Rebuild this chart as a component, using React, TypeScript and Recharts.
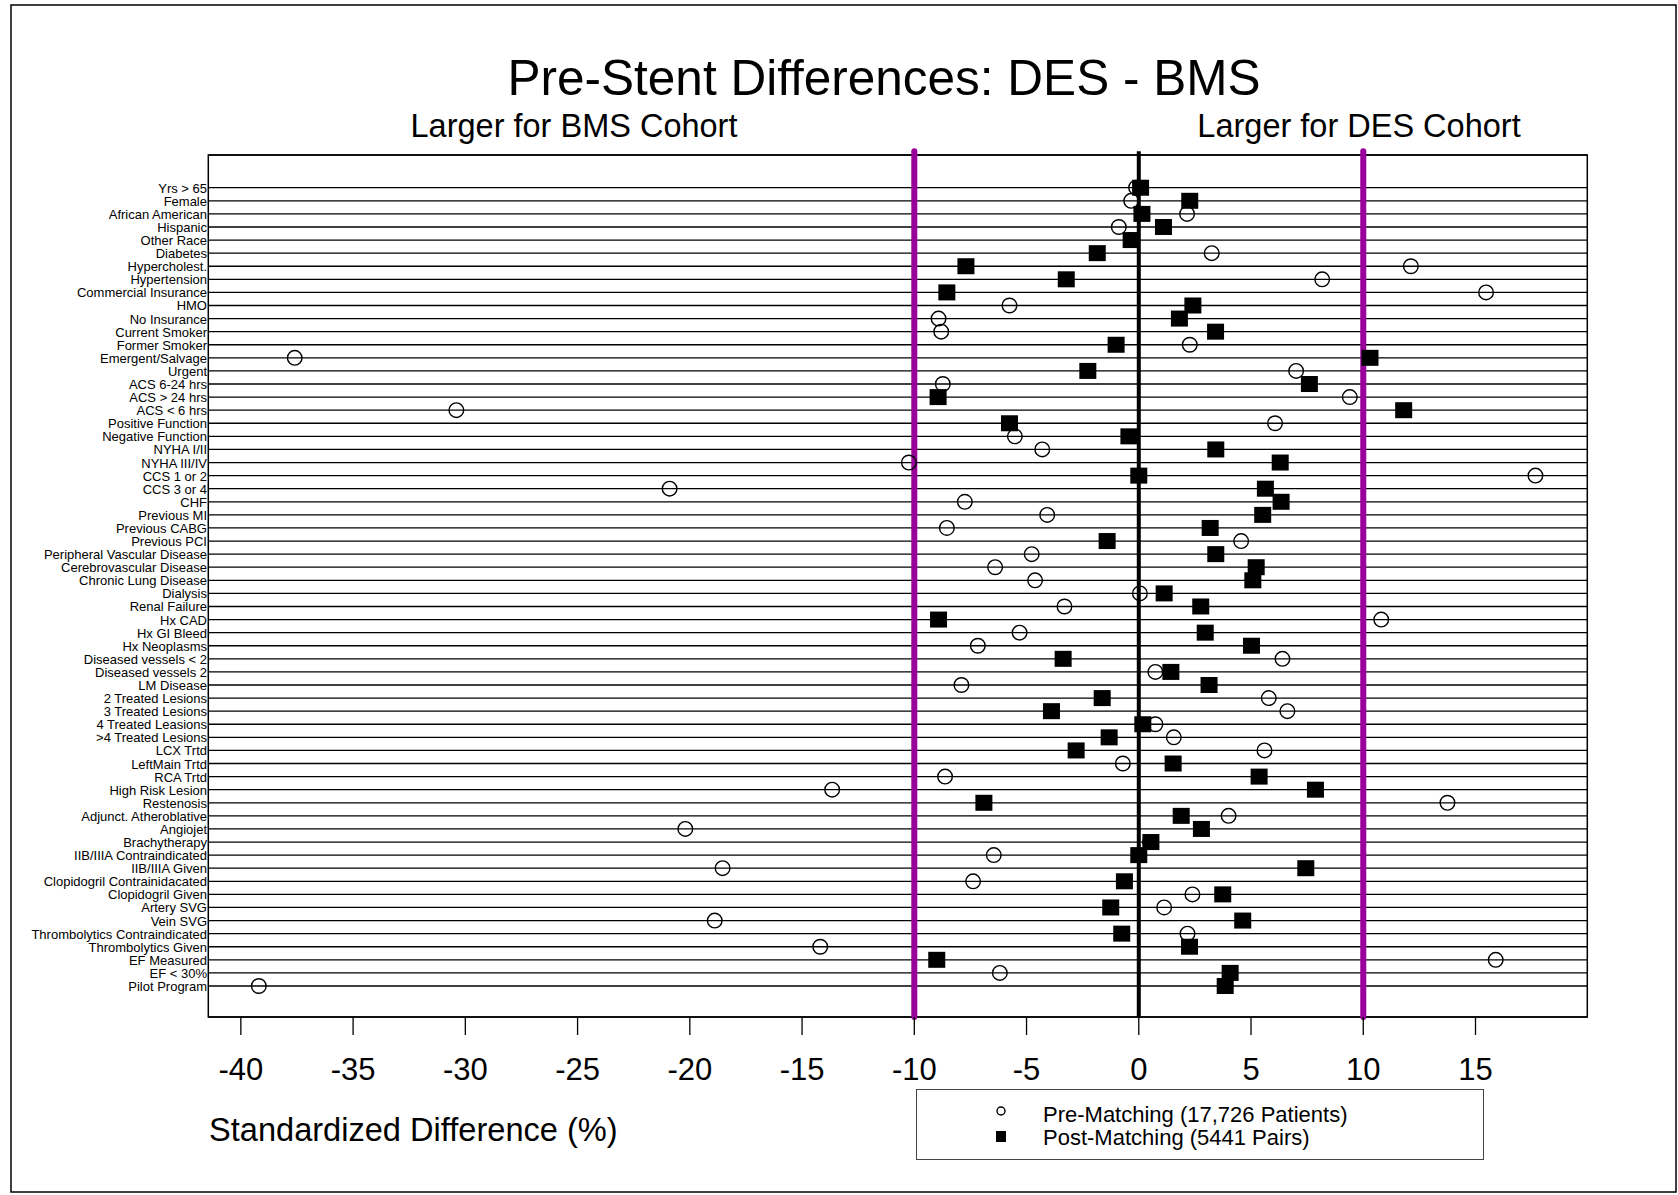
import React from "react";
import {
  ScatterChart,
  Scatter,
  XAxis,
  YAxis,
  CartesianGrid,
  ReferenceLine,
  ReferenceArea,
  Legend,
} from "recharts";

const CATEGORIES = [
  "Yrs > 65",
  "Female",
  "African American",
  "Hispanic",
  "Other Race",
  "Diabetes",
  "Hypercholest.",
  "Hypertension",
  "Commercial Insurance",
  "HMO",
  "No Insurance",
  "Current Smoker",
  "Former Smoker",
  "Emergent/Salvage",
  "Urgent",
  "ACS 6-24 hrs",
  "ACS > 24 hrs",
  "ACS < 6 hrs",
  "Positive Function",
  "Negative Function",
  "NYHA I/II",
  "NYHA III/IV",
  "CCS 1 or 2",
  "CCS 3 or 4",
  "CHF",
  "Previous MI",
  "Previous CABG",
  "Previous PCI",
  "Peripheral Vascular Disease",
  "Cerebrovascular Disease",
  "Chronic Lung Disease",
  "Dialysis",
  "Renal Failure",
  "Hx CAD",
  "Hx GI Bleed",
  "Hx Neoplasms",
  "Diseased vessels < 2",
  "Diseased vessels 2",
  "LM Disease",
  "2 Treated Lesions",
  "3 Treated Lesions",
  "4 Treated Leasions",
  ">4 Treated Lesions",
  "LCX Trtd",
  "LeftMain Trtd",
  "RCA Trtd",
  "High Risk Lesion",
  "Restenosis",
  "Adjunct. Atheroblative",
  "Angiojet",
  "Brachytherapy",
  "IIB/IIIA Contraindicated",
  "IIB/IIIA Given",
  "Clopidogril Contrainidacated",
  "Clopidogril Given",
  "Artery SVG",
  "Vein SVG",
  "Thrombolytics Contraindicated",
  "Thrombolytics Given",
  "EF Measured",
  "EF < 30%",
  "Pilot Program",
];

// standardized difference (%) before matching, one per category
const PRE_MATCHING = [
  -0.12, -0.34, 2.15, -0.89, -0.35, 3.25, 12.12, 8.17, 15.47, -5.76,
  -8.92, -8.8, 2.27, -37.6, 7.01, -8.73, 9.4, -30.4, 6.07, -5.52,
  -4.3, -10.24, 17.67, -20.9, -7.75, -4.08, -8.55, 4.56, -4.77, -6.4,
  -4.62, 0.05, -3.31, 10.8, -5.31, -7.17, 6.4, 0.74, -7.9, 5.79,
  6.62, 0.74, 1.56, 5.6, -0.71, -8.63, -13.66, 13.75, 4.0, -20.2,
  0.5, -6.46, -18.54, -7.38, 2.39, 1.13, -18.89, 2.17, -14.19, 15.9,
  -6.19, -39.2,
];

// standardized difference (%) after matching
const POST_MATCHING = [
  0.08, 2.27, 0.14, 1.1, -0.34, -1.85, -7.7, -3.23, -8.55, 2.41,
  1.81, 3.42, -1.01, 10.3, -2.27, 7.6, -8.94, 11.8, -5.76, -0.44,
  3.43, 6.3, 0.0, 5.64, 6.34, 5.52, 3.18, -1.41, 3.43, 5.23,
  5.08, 1.13, 2.76, -8.92, 2.96, 5.02, -3.37, 1.43, 3.13, -1.63,
  -3.89, 0.18, -1.32, -2.79, 1.53, 5.36, 7.87, -6.9, 1.89, 2.79,
  0.54, 0.0, 7.44, -0.64, 3.74, -1.25, 4.63, -0.76, 2.26, -9.0,
  4.07, 3.85,
];

const X_TICKS = [-40, -35, -30, -25, -20, -15, -10, -5, 0, 5, 10, 15];
const THRESHOLDS = [-10, 10];

const PRE_NAME = "Pre-Matching (17,726 Patients)";
const POST_NAME = "Post-Matching (5441 Pairs)";

const FONT = "'Liberation Sans', Arial, Helvetica, sans-serif";
const W = 1678;
const H = 1195;
const X_DOMAIN: [number, number] = [-41.45, 19.98];
const Y_DOMAIN: [number, number] = [-2.5, 63.37];
// vertical guide lines poke a little above the frame
const LINE_TOP = -2.78;

const rows = CATEGORIES.map((_, i) => i);
const preData = CATEGORIES.map((c, i) => ({ row: i, label: c, diff: PRE_MATCHING[i] }));
const postData = CATEGORIES.map((c, i) => ({ row: i, label: c, diff: POST_MATCHING[i] }));

const XTick = (props: any) => (
  <text
    x={props.x}
    y={1080}
    textAnchor="middle"
    fontSize={31}
    fontFamily={FONT}
    fill="#000"
  >
    {props.payload.value}
  </text>
);

const YTick = (props: any) => (
  <text
    x={207}
    y={props.y + 0.5}
    textAnchor="end"
    dominantBaseline="central"
    fontSize={13}
    fontFamily={FONT}
    fill="#000"
  >
    {CATEGORIES[props.payload.value]}
  </text>
);

const OpenCircle = (props: any) => (
  <circle cx={props.cx} cy={props.cy} r={7.3} fill="none" stroke="#000" strokeWidth={1.4} />
);

const FilledSquare = (props: any) => (
  <rect x={props.cx - 8.5} y={props.cy - 8} width={17} height={16} fill="#000" />
);

const LegendBox = () => (
  <div
    style={{
      position: "relative",
      width: 566,
      height: 69,
      border: "1.5px solid #444",
      background: "#fff",
      fontFamily: FONT,
      color: "#000",
    }}
  >
    <svg width={566} height={69} style={{ position: "absolute", left: 0, top: 0 }}>
      <circle cx={84} cy={21} r={4} fill="none" stroke="#000" strokeWidth={1.4} />
      <rect x={79} y={41} width={10} height={11} fill="#000" />
      <text x={126} y={32} fontSize={22} fontFamily={FONT}>
        {PRE_NAME}
      </text>
      <text x={126} y={55} fontSize={22} fontFamily={FONT}>
        {POST_NAME}
      </text>
    </svg>
  </div>
);

export default function App() {
  return (
    <div
      style={{
        position: "absolute",
        left: 0,
        top: 0,
        width: W,
        height: H,
        background: "#fff",
        overflow: "hidden",
      }}
    >
      <ScatterChart
        width={W}
        height={H}
        margin={{ top: 155, right: 90.7, bottom: 98, left: 8.3 }}
      >
        <CartesianGrid vertical={false} stroke="#000" strokeWidth={1.3} />
        <XAxis
          type="number"
          dataKey="diff"
          domain={X_DOMAIN}
          ticks={X_TICKS}
          interval={0}
          axisLine={false}
          tickSize={18}
          tickLine={{ stroke: "#000", strokeWidth: 1.3 }}
          tick={XTick}
          height={80}
        />
        <YAxis
          type="number"
          dataKey="row"
          domain={Y_DOMAIN}
          reversed
          ticks={rows}
          interval={0}
          tick={YTick}
          tickLine={false}
          axisLine={false}
          width={200}
        />
        <ReferenceArea
          x1={X_DOMAIN[0]}
          x2={X_DOMAIN[1]}
          y1={Y_DOMAIN[0]}
          y2={Y_DOMAIN[1]}
          fill="none"
          fillOpacity={0}
          stroke="#000"
          strokeWidth={1.5}
          ifOverflow="visible"
        />
        {THRESHOLDS.map((t) => (
          <ReferenceLine
            key={t}
            segment={[
              { x: t, y: LINE_TOP },
              { x: t, y: Y_DOMAIN[1] },
            ]}
            stroke="#990099"
            strokeWidth={6}
            strokeLinecap="round"
            ifOverflow="visible"
          />
        ))}
        <ReferenceLine
          segment={[
            { x: 0, y: LINE_TOP },
            { x: 0, y: Y_DOMAIN[1] },
          ]}
          stroke="#000"
          strokeWidth={4}
          ifOverflow="visible"
        />
        <Scatter
          name={PRE_NAME}
          data={preData}
          shape={OpenCircle}
          isAnimationActive={false}
        />
        <Scatter
          name={POST_NAME}
          data={postData}
          shape={FilledSquare}
          isAnimationActive={false}
        />
        <Legend
          layout="vertical"
          align="center"
          verticalAlign="middle"
          content={LegendBox}
          wrapperStyle={{ left: 916, top: 1089, width: 570, height: 73 }}
        />
      </ScatterChart>
      <svg
        width={W}
        height={H}
        style={{ position: "absolute", left: 0, top: 0, pointerEvents: "none" }}
        fontFamily={FONT}
      >
        <rect x={11} y={5} width={1665} height={1187} fill="none" stroke="#000" strokeWidth={1.5} />
        <text x={884} y={95} textAnchor="middle" fontSize={49.5} fill="#000">
          Pre-Stent Differences: DES - BMS
        </text>
        <text x={574} y={137} textAnchor="middle" fontSize={32.5} fill="#000">
          Larger for BMS Cohort
        </text>
        <text x={1359} y={137} textAnchor="middle" fontSize={32.5} fill="#000">
          Larger for DES Cohort
        </text>
        <text x={209} y={1141} fontSize={32.6} fill="#000">
          Standardized Difference (%)
        </text>
      </svg>
    </div>
  );
}
